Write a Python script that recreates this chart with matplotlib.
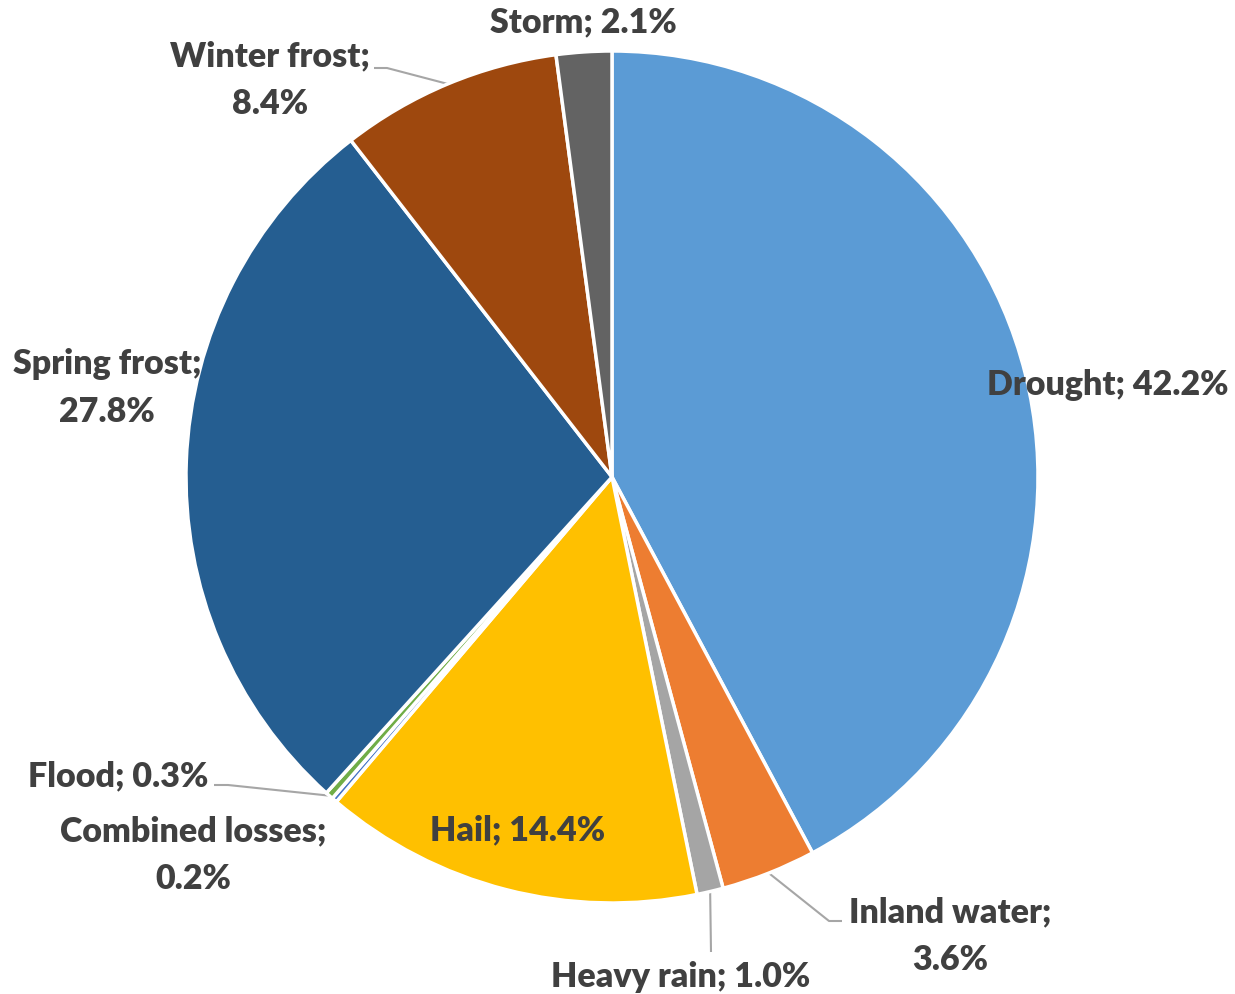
import numpy as np
import matplotlib
matplotlib.use("Agg")
import matplotlib.pyplot as plt

# Crop damage by cause (share of total), clockwise from 12 o'clock
categories = ["Drought", "Inland water", "Heavy rain", "Hail", "Combined losses",
              "Flood", "Spring frost", "Winter frost", "Storm"]
shares = [42.2, 3.6, 1.0, 14.4, 0.2, 0.3, 27.8, 8.4, 2.1]
colors = ["#5B9BD5", "#ED7D31", "#A5A5A5", "#FFC000", "#4472C4",
          "#70AD47", "#255E91", "#9E480E", "#636363"]

W, H = 1235, 995
fig = plt.figure(figsize=(W / 100, H / 100), dpi=100)
ax = fig.add_axes([0, 0, 1, 1])

cx, cy, R = 612, H - 478, 426
wedges, _ = ax.pie(shares, colors=colors, startangle=90, counterclock=False,
                   center=(cx, cy), radius=R,
                   wedgeprops=dict(edgecolor="white", linewidth=2.5))
ax.set_xlim(0, W)
ax.set_ylim(0, H)
ax.set_aspect("equal")
ax.axis("off")

TXT = "#404040"
LINE = "#A6A6A6"
font = dict(family="Lato", fontweight="heavy", fontsize=24.5, color=TXT,
            ha="center", va="center", linespacing=1.6)


def label(i, x, y, two_lines=False):
    name = categories[i]
    val = f"{shares[i]:.1f}%"
    s = f"{name};\n{val}" if two_lines else f"{name}; {val}"
    ax.text(x, H - y, s, **font)


def edge_point(i):
    w = wedges[i]
    mid = np.deg2rad((w.theta1 + w.theta2) / 2)
    return cx + R * np.cos(mid), cy + R * np.sin(mid)


def leader(i, pts):
    ex, ey = edge_point(i)
    xs = [p[0] for p in pts] + [ex]
    ys = [H - p[1] for p in pts] + [ey]
    ax.plot(xs, ys, color=LINE, lw=1.5, solid_capstyle="butt", zorder=0)


label(0, 1108, 385)
label(1, 950, 936, two_lines=True)
leader(1, [(842, 922), (829, 922)])
label(2, 681, 977)
leader(2, [(711, 953)])
label(3, 518, 830)
label(4, 193, 855, two_lines=True)
label(5, 118, 776)
leader(5, [(214, 786), (228, 786)])
label(6, 107, 388, two_lines=True)
label(7, 270, 80, two_lines=True)
leader(7, [(374, 69), (387, 69)])
label(8, 583, 22)

fig.savefig("out.png", dpi=100, facecolor="white")
